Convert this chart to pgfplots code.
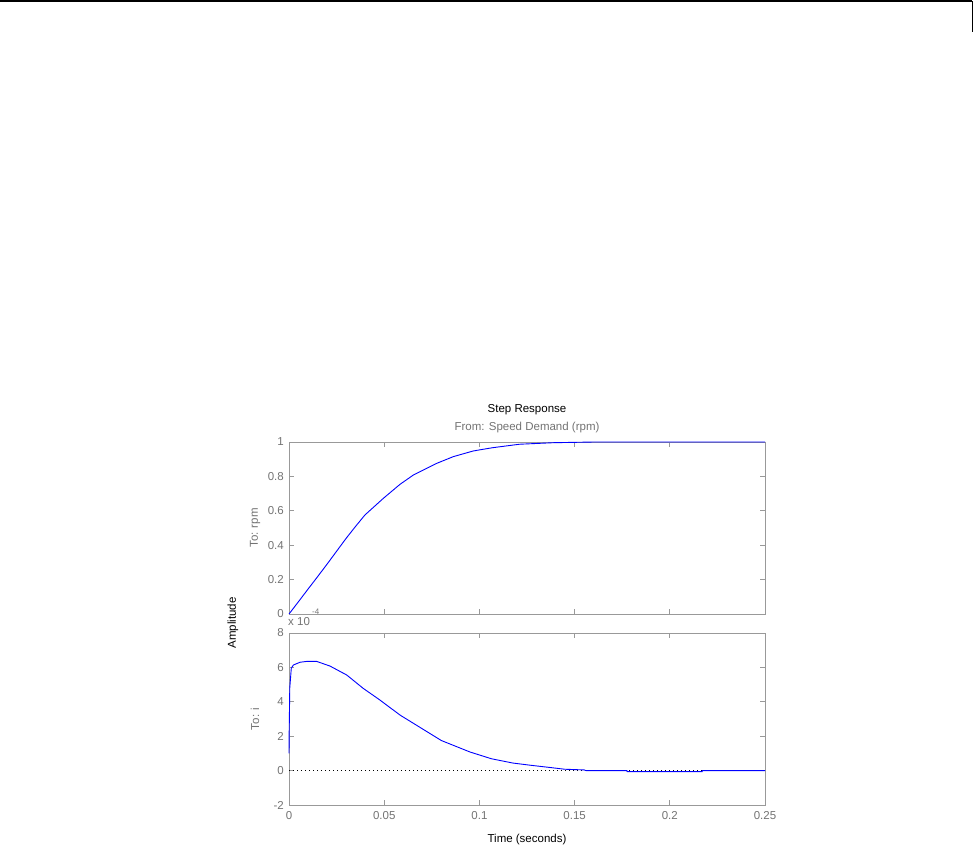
\documentclass[border=0pt]{standalone}
\usepackage{pgfplots}
\pgfplotsset{compat=1.18}
\usepackage{fontspec}
\setmainfont{Liberation Sans}
\definecolor{axgray}{gray}{0.6}
\definecolor{labgray}{gray}{0.45}
\definecolor{mblue}{rgb}{0,0,1}
\newcommand{\fs}{\fontsize{11.5}{13}\selectfont}
\pgfplotsset{
 mystyle/.style={
  scale only axis, width=476pt, height=172pt,
  xmin=0, xmax=0.25,
  xtick={0,0.05,0.1,0.15,0.2,0.25},
  tick align=inside,
  major tick length=5pt,
  axis line style={axgray, line width=0.8pt},
  every tick/.style={axgray, line width=0.8pt},
  tick label style={font=\fs, text=labgray},
  /pgf/number format/assume math mode=true,
  yticklabel style={inner sep=0pt, xshift=-5pt},
  xticklabel style={inner sep=0pt, yshift=-6pt},
  clip=false,
 }
}
\begin{document}
\begin{tikzpicture}[x=1pt,y=1pt]
\useasboundingbox (0,0) rectangle (973,-857);
% page header
\draw[black, line width=1.2pt] (0,-1) -- (972.4,-1);
\draw[black, line width=1.2pt] (972.4,-1) -- (972.4,-32);

\begin{axis}[mystyle, at={(289pt,-442pt)}, anchor=north west,
  ymin=0, ymax=1,
  ytick={0,0.2,0.4,0.6,0.8,1},
  yticklabels={0,0.8,0.4,0.6,0.8,1},
  yticklabels={0,0.2,0.4,0.6,0.8,1},
  xticklabels={}]
\addplot[mblue, line width=0.9pt] coordinates {
(0,0) (0.005,0.072) (0.01,0.145) (0.0137,0.198) (0.02,0.29) (0.025,0.365)
(0.03,0.44) (0.035,0.51) (0.0399,0.576) (0.0495,0.672) (0.0583,0.754)
(0.0653,0.808) (0.0776,0.876) (0.0863,0.915) (0.0968,0.948) (0.107,0.967)
(0.121,0.987) (0.139,0.996) (0.16,1.0) (0.25,1.0)};
\end{axis}

\begin{axis}[mystyle, at={(289pt,-633pt)}, anchor=north west,
  ymin=-2, ymax=8,
  ytick={-2,0,2,4,6,8},
  yticklabels={-2,0,2,4,6,8},
  xticklabels={0,0.05,0.1,0.15,0.2,0.25}]
\addplot[black, line width=0.8pt, dash pattern=on 1pt off 3pt] coordinates {(0,0) (0.25,0)};
\addplot[mblue, line width=0.9pt] coordinates {
(0,1.0) (0.0001,2.3) (0.0004,4.8) (0.0012,5.95) (0.0023,6.14) (0.0058,6.3)
(0.0093,6.35) (0.0145,6.35) (0.0215,6.08) (0.0303,5.56) (0.039,4.78)
(0.0478,4.1) (0.0583,3.23) (0.080,1.75) (0.0951,1.08) (0.1063,0.69)
(0.1176,0.44) (0.127,0.31) (0.138,0.17) (0.1448,0.08) (0.155,0.04)
(0.156,0.0) (0.1775,0.0) (0.1776,-0.06) (0.217,-0.06) (0.2171,0) (0.25,0)};
\end{axis}

% titles and labels
\node[font=\fs, text=black] at (527,-410) {Step Response};
\node[font=\fs, text=labgray] at (527,-428) {From: Speed Demand (rpm)};
\node[font=\fs, text=black, rotate=90] at (233,-623) {Amplitude};
\node[font=\fs, text=labgray, rotate=90] at (255,-528) {To: rpm};
\node[font=\fs, text=labgray, rotate=90] at (255,-719) {To: i};
\node[font=\fs, text=black] at (527,-840) {Time (seconds)};
\node[font=\fs, text=labgray, anchor=west, inner sep=0pt] at (288,-622) {x 10};
\node[font=\fontsize{8}{9}\selectfont, text=labgray, anchor=west, inner sep=0pt] at (312,-612) {-4};
\end{tikzpicture}
\end{document}
